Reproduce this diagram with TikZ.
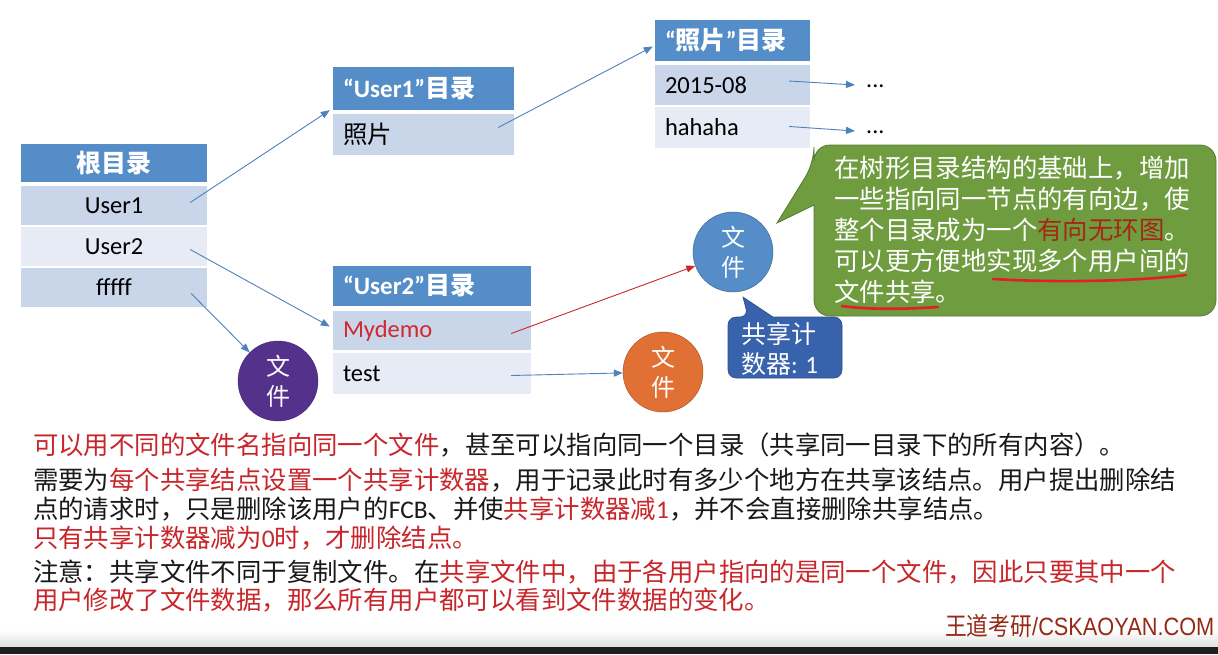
\documentclass[tikz,border=0pt]{standalone}
\usepackage{fontspec}
\setmainfont{Carlito}
\newfontfamily\cjk{Noto Sans CJK SC}
\newfontfamily\arialf{Liberation Sans}
\usetikzlibrary{arrows.meta,calc}
\newcommand\zh[1]{{\cjk #1}}
\newcommand\lat[1]{{\rmfamily #1}}
\definecolor{hdr}{RGB}{84,141,199}
\definecolor{rowa}{RGB}{201,213,232}
\definecolor{rowb}{RGB}{230,235,245}
\definecolor{arrc}{RGB}{79,129,189}
\definecolor{arrred}{RGB}{205,40,40}
\definecolor{txtred}{RGB}{200,38,42}
\definecolor{myred}{RGB}{210,40,46}
\definecolor{fpurple}{RGB}{84,50,140}
\definecolor{forange}{RGB}{225,112,52}
\definecolor{fblue}{RGB}{84,141,199}
\definecolor{cgreen}{RGB}{112,156,64}
\definecolor{cgreenb}{RGB}{85,120,50}
\definecolor{cblue}{RGB}{56,98,172}
\definecolor{dagred}{RGB}{165,40,22}
\definecolor{ulred}{RGB}{228,30,40}
\definecolor{wmc}{RGB}{150,42,22}
\definecolor{txtblk}{RGB}{25,25,25}
\tikzset{
  hcell/.style={fill=hdr, text=white, inner ysep=0pt, font=\bfseries\fontsize{25}{30}\selectfont},
  ccell/.style={inner sep=0pt, text=black, font=\fontsize{24.5}{29}\selectfont},
  lcell/.style={text width=#1, align=left, inner xsep=10pt},
  arr/.style={draw=arrc, line width=0.9pt, -{Triangle[length=9pt,width=7pt]}},
  arrr/.style={draw=arrred, line width=0.9pt, -{Triangle[length=9pt,width=7pt]}},
  filec/.style={circle, minimum size=80pt, inner sep=0pt, text=white, align=center, font=\cjk\fontsize{24}{30}\selectfont},
  ctext/.style={anchor=base west, inner sep=0pt, text=white, font=\cjk\fontsize{25.4}{30}\selectfont},
  btxt/.style={anchor=base west, inner sep=0pt, text=txtblk, font=\cjk\fontsize{25.4}{30}\selectfont},
  dots/.style={anchor=base west, inner sep=0pt, font=\fontsize{24}{29}\selectfont}
}
\begin{document}
\begin{tikzpicture}[x=1pt,y=-1pt]
\useasboundingbox (0,0) rectangle (1218,654);
\fill[white] (0,0) rectangle (1218,654);
\shade[top color=white, bottom color=black!12] (0,630) rectangle (1218,647);
\fill[black!88] (0,647) rectangle (1218,654);

% root table
\node[hcell, minimum width=186pt, minimum height=38pt, inner xsep=0pt] (rh) at (114,163) {\zh{根目录}};
\node[ccell, fill=rowa, minimum width=186pt, minimum height=39pt] (r1) at (114,205.5) {User1};
\node[ccell, fill=rowb, minimum width=186pt, minimum height=39pt] (r2) at (114,246.5) {User2};
\node[ccell, fill=rowa, minimum width=186pt, minimum height=39pt] (r3) at (114,287.5) {fffff};

% User1 table
\node[hcell, lcell=161pt, minimum height=43pt] (u1h) at (423.5,88.5) {“User1”\zh{目录}};
\node[ccell, lcell=161pt, fill=rowa, minimum height=41pt] (u1r) at (423.5,134.5) {\zh{照片}};

% photo table
\node[hcell, lcell=135pt, minimum height=41pt] (phh) at (732.5,40.5) {“\zh{照片}”\zh{目录}};
\node[ccell, lcell=135pt, fill=rowa, minimum height=40pt] (p1) at (732.5,85) {2015-08};
\node[ccell, lcell=135pt, fill=rowb, minimum height=41pt] (p2) at (732.5,127.5) {hahaha};

% User2 table
\node[hcell, lcell=178pt, minimum height=40pt] (u2h) at (432,286) {“User2”\zh{目录}};
\node[ccell, lcell=178pt, fill=rowa, minimum height=39pt] (u2a) at (432,330.5) {\textcolor{myred}{Mydemo}};
\node[ccell, lcell=178pt, fill=rowb, minimum height=41pt] (u2b) at (432,373.5) {test};

% dots
\node[dots] (d1) at (866,87) {...};
\node[dots] (d2) at (866,133) {...};

% files
\node[filec, fill=fpurple, draw=fpurple!80!black] (fp) at (278,381) {文\\件};
\node[filec, fill=forange, draw=forange!70!black] (fo) at (663,372) {文\\件};
\node[filec, fill=fblue, draw=fblue!70!black] (fb) at (733,252) {文\\件};

% arrows
\draw[arr] ($(r1.east)+(-17,-3)$) -- ($(u1h.south west)+(-3,0)$);
\draw[arr] ($(u1r.east)+(-16,-7)$) -- ($(phh.west)+(-2,6)$);
\draw[arr] ($(r2.east)+(-17,3)$) -- ($(u2a.west)+(-3,-4)$);
\draw[arr] ($(r3.east)+(-16,6)$) -- (fp);
\draw[arrr] ($(u2a.east)+(-20,3)$) -- (fb);
\draw[arr] ($(u2b.east)+(-20,2)$) -- (fo);
\draw[arr] ($(p1.east)+(-21,-4)$) -- ($(d1.base west)+(-11,-2)$);
\draw[arr] ($(p2.east)+(-21,-1)$) -- ($(d2.base west)+(-11,-2)$);

% green callout
\draw[fill=cgreen, draw=cgreenb, line width=0.8pt] (814,260) [rounded corners=16pt] -- (814,316) -- (1216,316) -- (1216,145) -- (814,145) -- (814,163) [sharp corners] -- (777,223) -- (814,205) -- cycle;
\node[ctext] (g1) at (834,177.6) {在树形目录结构的基础上，增加};
\node[ctext] (g2) at (834,208.6) {一些指向同一节点的有向边，使};
\node[ctext] (g3) at (834,239.6) {整个目录成为一个\textcolor{dagred}{有向无环图}。};
\node[ctext] (g4) at (834,270.6) {可以更方便地实现多个用户间的};
\node[ctext] (g5) at (834,301.6) {文件共享。};
\draw[ulred, line width=2.6pt, line cap=round] (993,279) .. controls (1060,283) and (1140,281) .. (1186,275);
\draw[ulred, line width=2.6pt, line cap=round] (842,306) .. controls (870,310) and (910,309) .. (938,307);

% blue callout
\draw[fill=cblue, draw=cblue!80!black, line width=0.6pt] (800,317) [rounded corners=8pt] -- (842,317) -- (842,378) -- (728,378) -- (728,317) -- (748,317) [sharp corners] -- (743,297) -- (773,317) -- cycle;
\node[ctext, font=\cjk\fontsize{25}{30}\selectfont] (k1) at (741,343.5) {共享计};
\node[ctext, font=\cjk\fontsize{25}{30}\selectfont] (k2) at (741,373) {数器\lat{: 1}};

% bottom text
\node[btxt] (b1) at (33,454.5) {\textcolor{txtred}{可以用不同的文件名指向同一个文件}，甚至可以指向同一个目录（共享同一目录下的所有内容）。};
\node[btxt] (b2) at (33,489.5) {需要为\textcolor{txtred}{每个共享结点设置一个共享计数器}，用于记录此时有多少个地方在共享该结点。用户提出删除结};
\node[btxt] (b3) at (33,518.5) {点的请求时，只是删除该用户的\lat{FCB}、并使\textcolor{txtred}{共享计数器减\lat{1}}，并不会直接删除共享结点。};
\node[btxt, text=txtred] (b4) at (33,547) {只有共享计数器减为\lat{0}时，才删除结点。};
\node[btxt] (b5) at (33,581.5) {注意：共享文件不同于复制文件。在\textcolor{txtred}{共享文件中，由于各用户指向的是同一个文件，因此只要其中一个}};
\node[btxt, text=txtred] (b6) at (33,609.5) {用户修改了文件数据，那么所有用户都可以看到文件数据的变化。};

% watermark
\node[anchor=base west, inner sep=0pt, text=wmc] (wm) at (945,635) {\scalebox{0.87}[1]{\fontsize{25}{30}\selectfont\zh{王道考研}\arialf /CSKAOYAN.COM}};
\end{tikzpicture}
\end{document}
